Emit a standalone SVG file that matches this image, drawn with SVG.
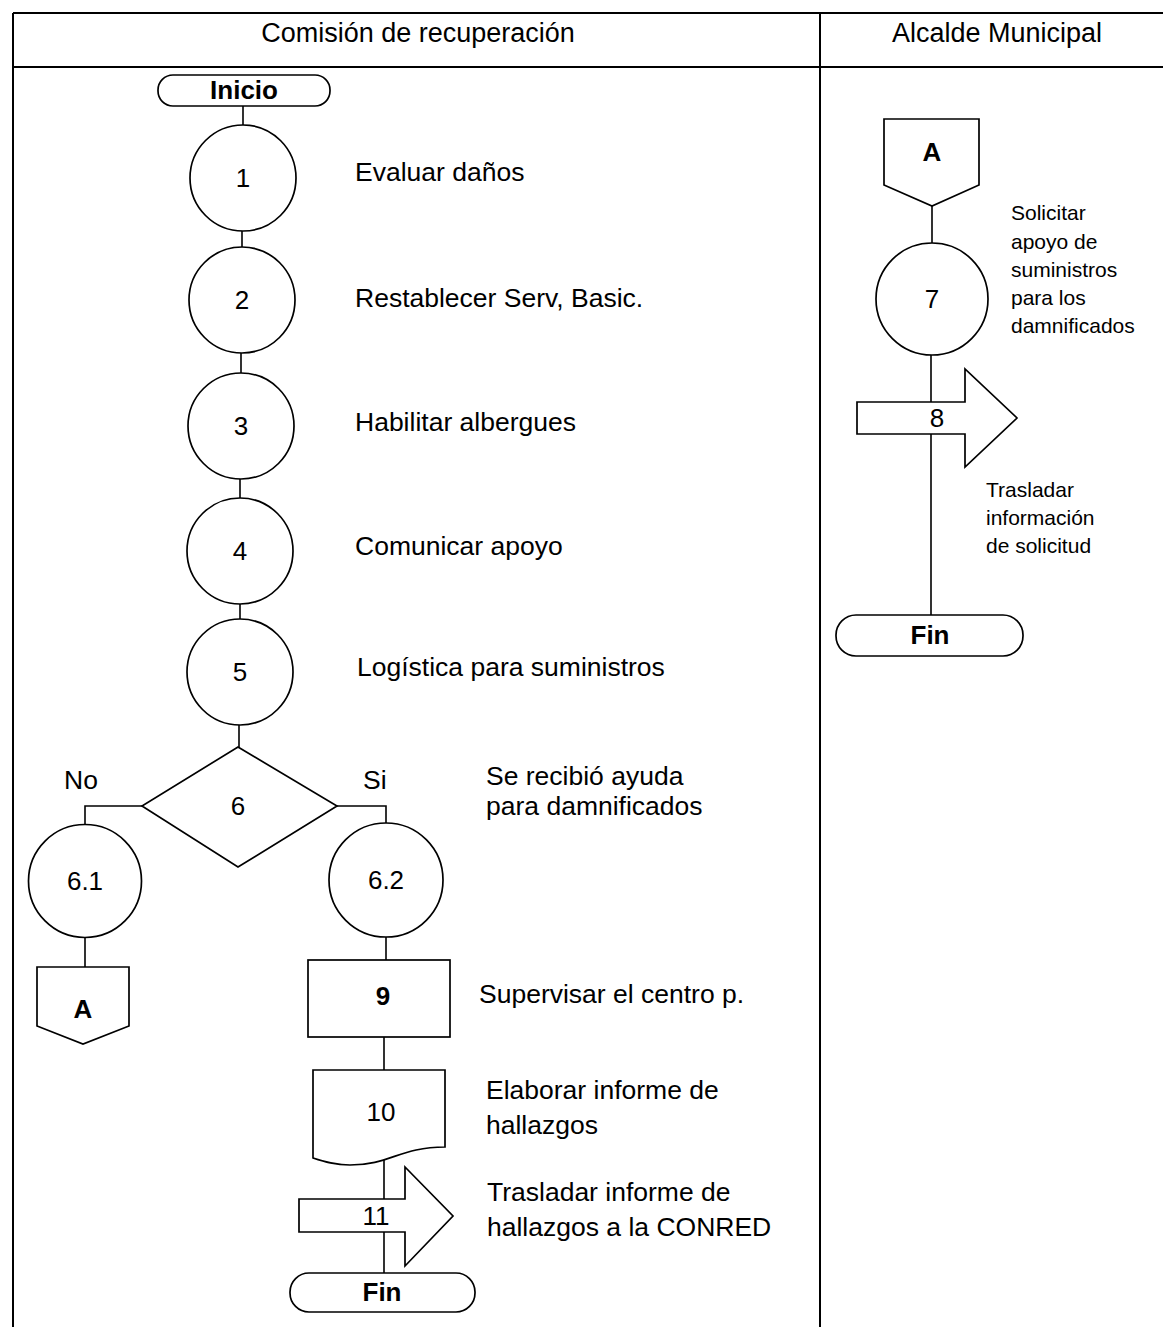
<svg xmlns="http://www.w3.org/2000/svg" width="1163" height="1327" viewBox="0 0 1163 1327">
<style>
text{font-family:"Liberation Sans",Arial,sans-serif;fill:#000}
.lbl{font-size:26.5px}
.hd{font-size:27px;text-anchor:middle}
.num{font-size:26px;text-anchor:middle}
.b{font-weight:bold;text-anchor:middle;font-size:26px}
.sm{font-size:21px}
.sh{fill:#fff;stroke:#000;stroke-width:1.7}
.ln{fill:none;stroke:#000;stroke-width:1.6}
.grid{fill:none;stroke:#000;stroke-width:2}
</style>
<rect width="1163" height="1327" fill="#fff"/>
<g id="lanes">
<path class="grid" d="M13 13H1163M13 67H1163M13 13V1327M820 13V1327"/>
<text class="hd" x="418" y="42">Comisión de recuperación</text>
<text class="hd" x="997" y="42">Alcalde Municipal</text>
</g>
<g id="connectors">
<path class="ln" d="M243 106V125M242 231V247M241 353V373M240 479V498M240 604V619M239 725V747"/>
<path class="ln" d="M142 806H85V825M337 806H386V823"/>
<path class="ln" d="M85 938V967M386 937V960M384 1037V1070M384 1160V1273"/>
<path class="ln" d="M932 206V244M931 354V615"/>
</g>
<g id="inicio"><rect class="sh" x="158" y="75" width="172" height="31" rx="15"/><text class="b" x="244" y="99">Inicio</text></g>
<g id="n1"><circle class="sh" cx="243" cy="178" r="53"/><text class="num" x="243" y="187">1</text></g>
<g id="n2"><circle class="sh" cx="242" cy="300" r="53"/><text class="num" x="242" y="309">2</text></g>
<g id="n3"><circle class="sh" cx="241" cy="426" r="53"/><text class="num" x="241" y="435">3</text></g>
<g id="n4"><circle class="sh" cx="240" cy="551" r="53"/><text class="num" x="240" y="560">4</text></g>
<g id="n5"><circle class="sh" cx="240" cy="672" r="53"/><text class="num" x="240" y="681">5</text></g>
<g id="labels">
<text class="lbl" x="355" y="181">Evaluar daños</text>
<text class="lbl" x="355" y="307">Restablecer Serv, Basic.</text>
<text class="lbl" x="355" y="431">Habilitar albergues</text>
<text class="lbl" x="355" y="555">Comunicar apoyo</text>
<text class="lbl" x="357" y="676">Logística para suministros</text>
<text class="lbl" x="486" y="785">Se recibió ayuda</text>
<text class="lbl" x="486" y="815">para damnificados</text>
<text class="lbl" x="64" y="789">No</text>
<text class="lbl" x="363" y="789">Si</text>
<text class="lbl" x="479" y="1003">Supervisar el centro p.</text>
<text class="lbl" x="486" y="1099">Elaborar informe de</text>
<text class="lbl" x="486" y="1134">hallazgos</text>
<text class="lbl" x="487" y="1201">Trasladar informe de</text>
<text class="lbl" x="487" y="1236">hallazgos a la CONRED</text>
<text class="sm" x="1011" y="220">Solicitar</text>
<text class="sm" x="1011" y="249">apoyo de</text>
<text class="sm" x="1011" y="277">suministros</text>
<text class="sm" x="1011" y="305">para los</text>
<text class="sm" x="1011" y="333">damnificados</text>
<text class="sm" x="986" y="497">Trasladar</text>
<text class="sm" x="986" y="525">información</text>
<text class="sm" x="986" y="553">de solicitud</text>
</g>
<g id="n6"><path class="sh" d="M238 747L337 806L238 867L142 806Z"/><text class="num" x="238" y="815">6</text></g>
<g id="n61"><circle class="sh" cx="85" cy="881" r="56.5"/><text class="num" x="85" y="890">6.1</text></g>
<g id="n62"><circle class="sh" cx="386" cy="880" r="57"/><text class="num" x="386" y="889">6.2</text></g>
<g id="offA1"><path class="sh" d="M37 967H129V1026L83 1044L37 1026Z"/><text class="b" x="83" y="1018">A</text></g>
<g id="n9"><rect class="sh" x="308" y="960" width="142" height="77"/><text class="b" x="383" y="1005">9</text></g>
<g id="n10"><path class="sh" d="M313 1070H445V1147C400 1147 390 1165 350 1165C335 1165 325 1162 313 1158Z"/><text class="num" x="381" y="1121">10</text></g>
<g id="n11"><path class="sh" d="M299 1199H405V1167L453 1216L405 1266V1232H299Z"/><text class="num" x="376" y="1225">11</text></g>
<g id="fin1"><rect class="sh" x="290" y="1273" width="185" height="39" rx="19"/><text class="b" x="382" y="1301">Fin</text></g>
<g id="offA2"><path class="sh" d="M884 119H979V185L932 206L884 185Z"/><text class="b" x="932" y="161">A</text></g>
<g id="n7"><circle class="sh" cx="932" cy="299" r="56"/><text class="num" x="932" y="308">7</text></g>
<g id="n8"><path class="sh" d="M857 402H965V369L1017 418L965 467V434H857Z"/><text class="num" x="937" y="427">8</text></g>
<g id="fin2"><rect class="sh" x="836" y="615" width="187" height="41" rx="20"/><text class="b" x="930" y="644">Fin</text></g>
</svg>
